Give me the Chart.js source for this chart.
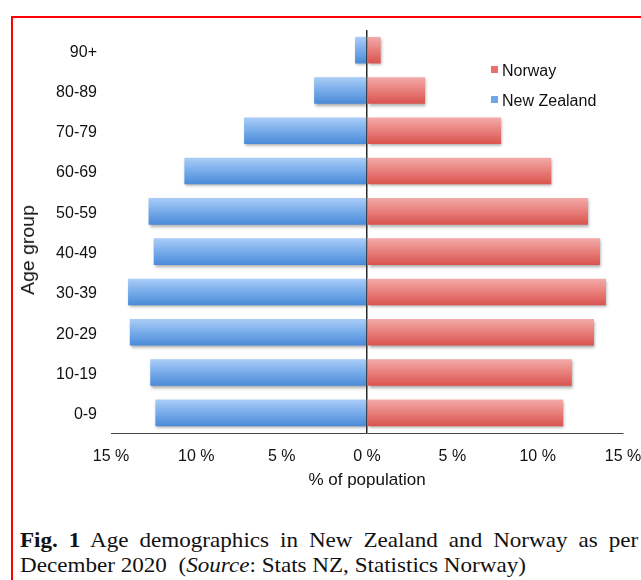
<!DOCTYPE html>
<html>
<head>
<meta charset="utf-8">
<script src="https://cdn.jsdelivr.net/npm/chart.js@4.4.0/dist/chart.umd.min.js"></script>
<style>
  html, body { margin: 0; padding: 0; background: #ffffff; width: 641px; height: 580px; overflow: hidden; }
  #frame { position: absolute; left: 11px; top: 16px; width: 700px; height: 700px; border: 2px solid #ff0000; box-sizing: border-box; }
  #wrap { position: absolute; left: 0; top: 0; width: 641px; height: 500px; }
  #ytitle { position: absolute; left: 27.5px; top: 250px; transform: translate(-50%, -50%) rotate(-90deg) scaleX(1.08);
            font: 18px "Liberation Sans", Arial, sans-serif; color: #111; white-space: nowrap; line-height: 18px; }
  .leg { position: absolute; left: 491px; font: 16px "Liberation Sans", Arial, sans-serif; color: #111; white-space: nowrap; line-height: 20px; }
  .leg span.sw { position: absolute; left: 0; width: 7px; height: 7px; }
  .leg span.tx { position: absolute; left: 11px; top: 0; }
  .cap { position: absolute; left: 20px; width: 562px; transform-origin: 0 0; transform: scaleX(1.1);
         font: 21px "Liberation Serif", "Times New Roman", serif; color: #111; line-height: 24px; white-space: nowrap; }
  #cap1 { top: 528px; text-align: justify; text-align-last: justify; white-space: normal; }
  #cap2 { top: 553px; }
</style>
</head>
<body>
<div id="frame"></div>
<div id="wrap"><canvas id="c"></canvas></div>
<div id="ytitle">Age group</div>
<div class="leg" style="top:61px;"><span class="sw" style="top:5px;background:#e8716d;"></span><span class="tx">Norway</span></div>
<div class="leg" style="top:91px;"><span class="sw" style="top:5px;background:#6ea6ea;"></span><span class="tx">New Zealand</span></div>
<div id="cap1" class="cap"><b>Fig. 1</b> Age demographics in New Zealand and Norway as per</div>
<div id="cap2" class="cap">December 2020&nbsp; (<i>Source</i>: Stats NZ, Statistics Norway)</div>
<script>
// ---- data ----
const ageGroups = ['0-9', '10-19', '20-29', '30-39', '40-49', '50-59', '60-69', '70-79', '80-89', '90+'];
const newZealand = [12.4, 12.7, 13.9, 14.0, 12.5, 12.8, 10.7, 7.2, 3.1, 0.7];
const norway = [11.5, 12.0, 13.3, 14.0, 13.65, 12.95, 10.8, 7.85, 3.4, 0.8];
const seriesNames = ['Norway', 'New Zealand'];
const xMin = -15, xMax = 15, xStep = 5;
const xTitle = '% of population';

const BAR_PCT = 0.66;

function barFill(top, mid, bottom) {
  return (c) => {
    const chart = c.chart, ys = chart.scales.y;
    if (!ys || c.type !== 'data' || !chart.chartArea) return bottom;
    const yc = ys.getPixelForValue(c.dataIndex);
    const half = Math.abs(ys.getPixelForValue(1) - ys.getPixelForValue(0)) * BAR_PCT / 2;
    const g = chart.ctx.createLinearGradient(0, yc - half, 0, yc + half);
    g.addColorStop(0, top);
    g.addColorStop(0.45, mid);
    g.addColorStop(1, bottom);
    return g;
  };
}

const shadowPlugin = {
  id: 'barShadow',
  beforeDatasetsDraw(chart) {
    const ctx = chart.ctx;
    ctx.save();
    ctx.shadowColor = 'rgba(0,0,0,0.35)';
    ctx.shadowBlur = 3;
    ctx.shadowOffsetX = 1;
    ctx.shadowOffsetY = 2;
  },
  afterDatasetsDraw(chart) { chart.ctx.restore(); }
};

const fontFam = '"Liberation Sans", Arial, Helvetica, sans-serif';

new Chart(document.getElementById('c'), {
  type: 'bar',
  data: {
    labels: ageGroups,
    datasets: [
      { label: seriesNames[0], data: norway, backgroundColor: barFill('#f3aba9', '#e9837f', '#d9534e'), borderWidth: 0 },
      { label: seriesNames[1], data: newZealand.map(v => -v), backgroundColor: barFill('#abcdf7', '#7cafec', '#4a8ad8'), borderWidth: 0 }
    ]
  },
  options: {
    indexAxis: 'y',
    responsive: true,
    maintainAspectRatio: false,
    animation: false,
    events: [],
    barPercentage: BAR_PCT,
    categoryPercentage: 1,
    layout: { padding: { top: 30, right: 18, left: 0, bottom: 0 } },
    plugins: { legend: { display: false }, tooltip: { enabled: false } },
    scales: {
      x: {
        type: 'linear', stacked: true, min: xMin, max: xMax, z: 1,
        ticks: { stepSize: xStep, padding: 14, color: '#111', font: { family: fontFam, size: 16 },
                 callback: v => Math.abs(v) + ' %' },
        grid: { drawTicks: false, drawOnChartArea: true,
                color: c => (c.tick && c.tick.value === 0) ? '#2a2a2a' : 'rgba(0,0,0,0)', lineWidth: 1.5 },
        border: { display: true, color: '#444', width: 1 },
        title: { display: true, text: xTitle, color: '#111', font: { family: fontFam, size: 17 }, padding: { top: 0, bottom: 9 } },
        afterFit: s => { s.height = 67; s.paddingLeft = 0; s.paddingRight = 0; }
      },
      y: {
        type: 'category', stacked: true, reverse: true,
        ticks: { padding: 14, labelOffset: 2, color: '#111', font: { family: fontFam, size: 16 } },
        grid: { display: false, drawTicks: false },
        border: { display: false },
        afterFit: s => { s.width = 111; }
      }
    }
  },
  plugins: [shadowPlugin]
});
</script>
</body>
</html>
